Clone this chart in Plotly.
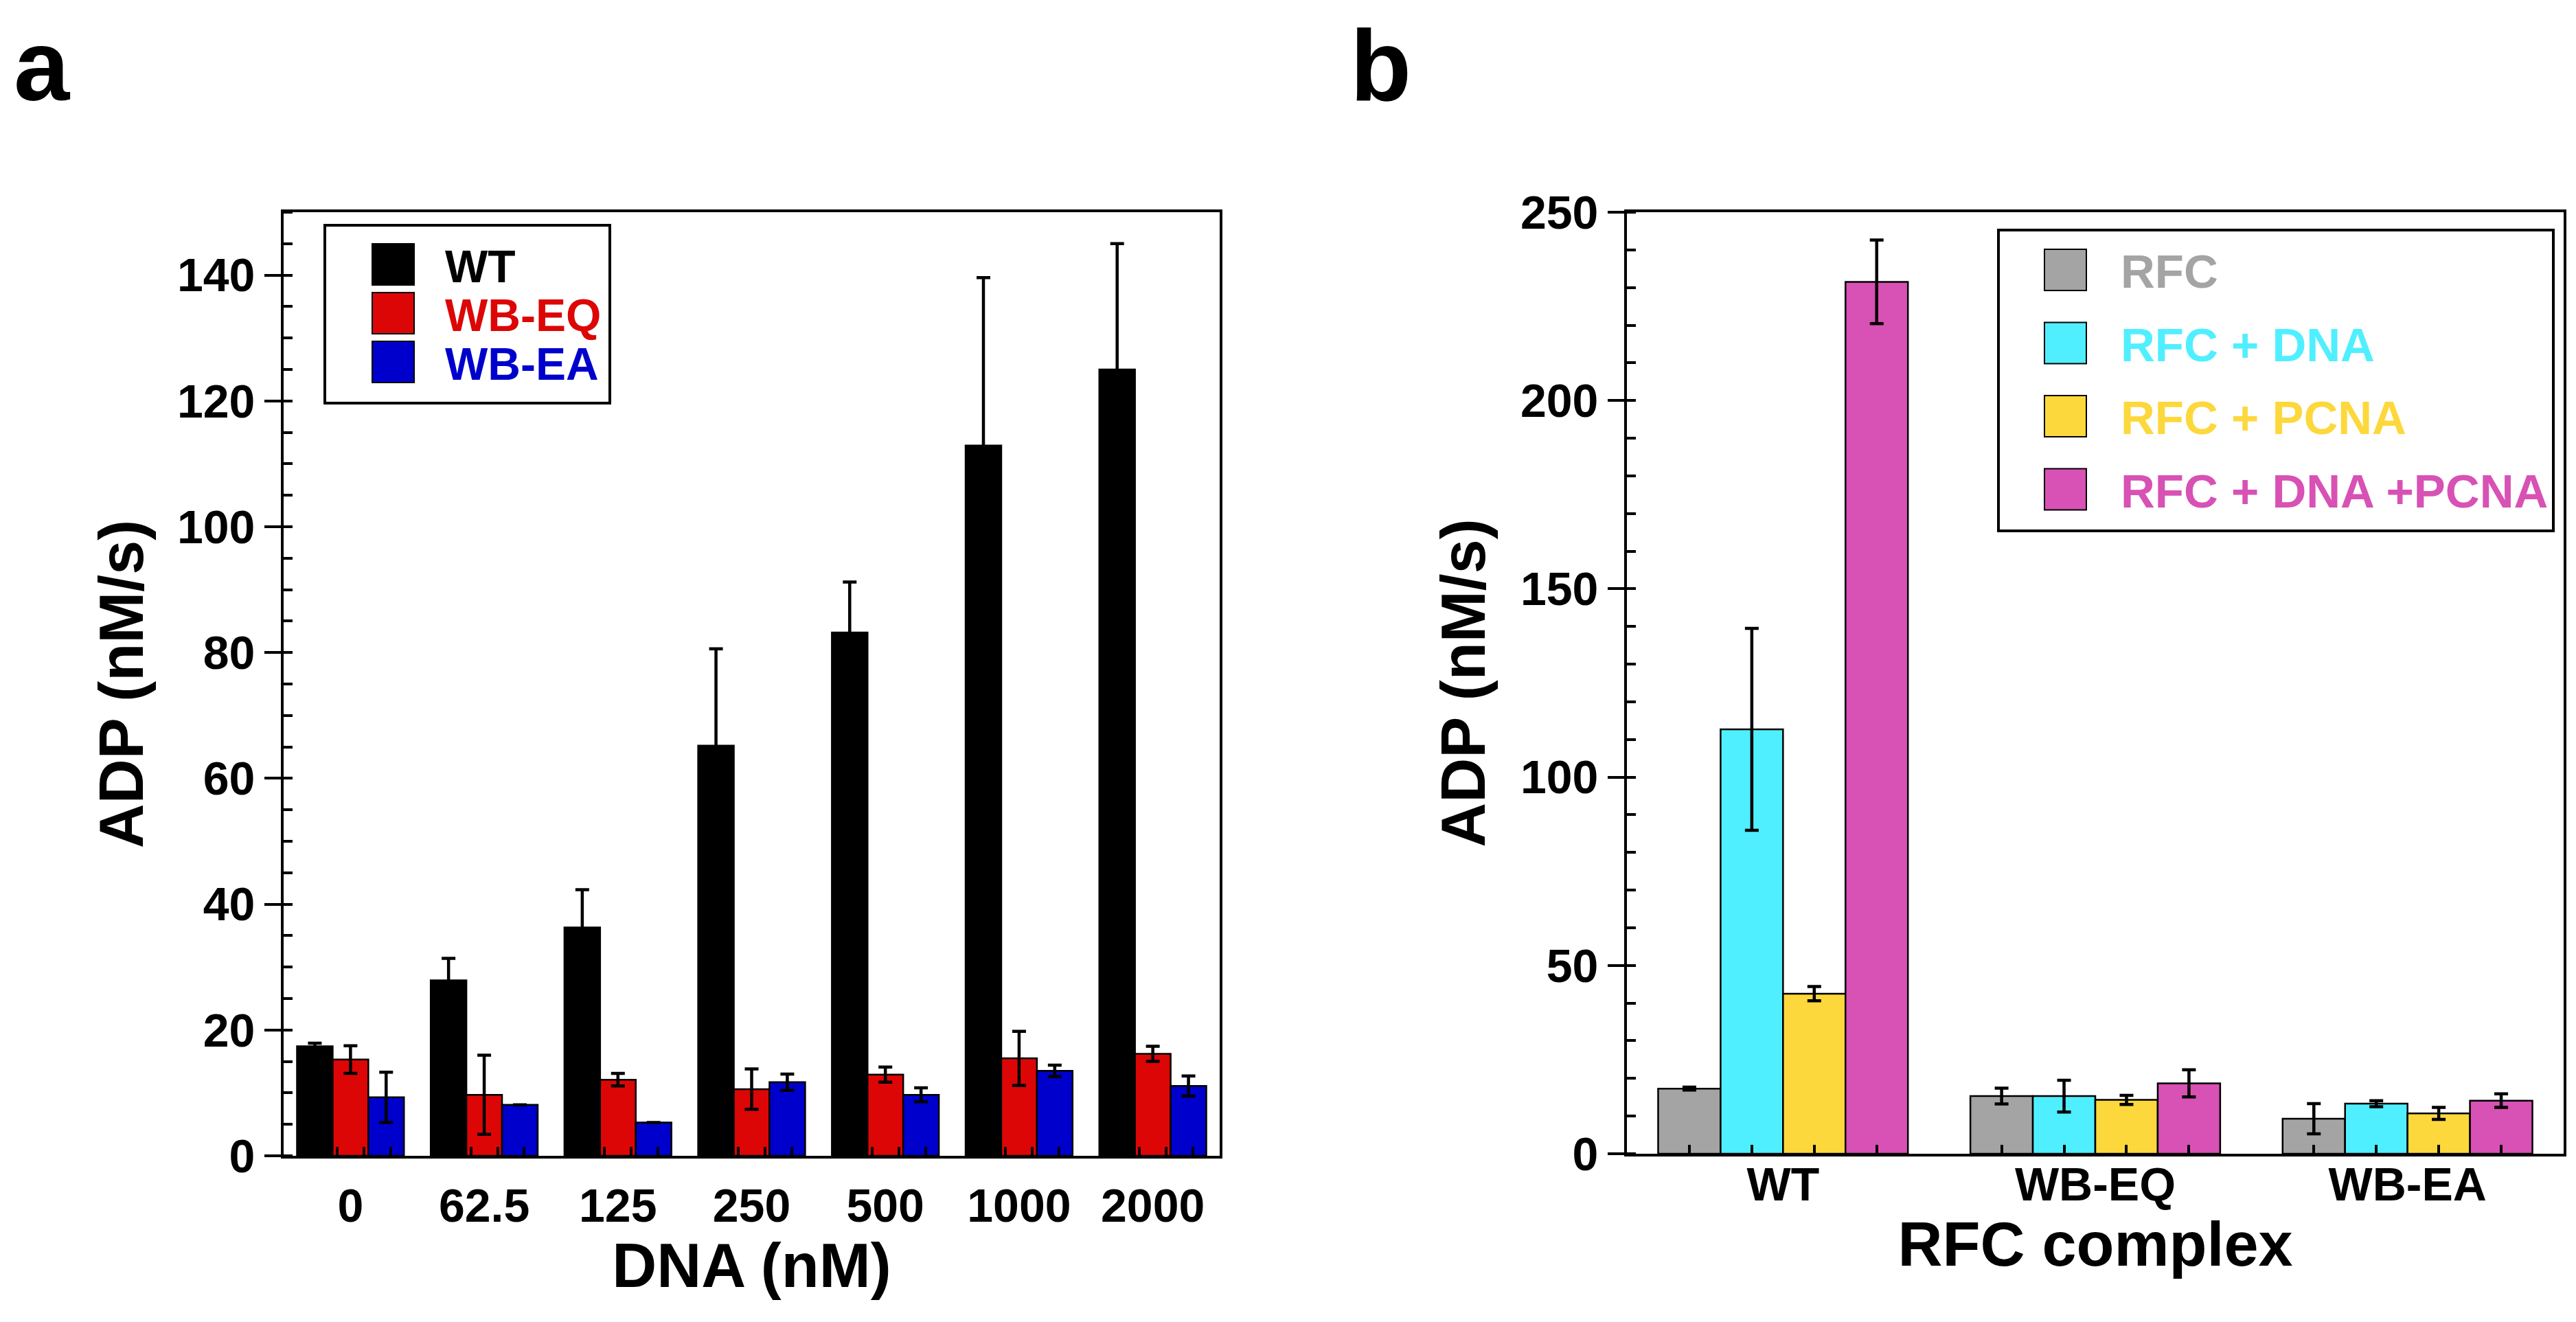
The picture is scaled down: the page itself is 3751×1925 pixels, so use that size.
import plotly.graph_objects as go

W, H = 3751, 1925
FONT = "Liberation Sans, Arial, Helvetica, sans-serif"

# ---- panel a : ATPase vs DNA concentration ----
dna_labels = ["0", "62.5", "125", "250", "500", "1000", "2000"]
wt = [17.4, 27.9, 36.3, 65.2, 83.2, 112.9, 125.0]
wt_err = [0.5, 3.5, 6.0, 15.4, 8.0, 26.7, 20.0]
wbeq = [15.3, 9.7, 12.1, 10.6, 12.9, 15.5, 16.2]
wbeq_err = [2.2, 6.3, 1.0, 3.2, 1.2, 4.3, 1.2]
wbea = [9.3, 8.1, 5.3, 11.7, 9.7, 13.5, 11.1]
wbea_err = [4.0, None, None, 1.3, 1.1, 0.9, 1.6]

names_a = ["WT", "WB-EQ", "WB-EA"]
colors_a = ["#000000", "#DD0606", "#0000CC"]

# ---- panel b : ATPase per RFC complex ----
complexes = ["WT", "WB-EQ", "WB-EA"]
rfc = [17.3, 15.3, 9.3]
rfc_err = [0.4, 2.1, 4.0]
rfc_dna = [112.7, 15.3, 13.3]
rfc_dna_err = [26.8, 4.2, 0.8]
rfc_pcna = [42.5, 14.3, 10.7]
rfc_pcna_err = [1.9, 1.2, 1.6]
rfc_dna_pcna = [231.5, 18.7, 14.1]
rfc_dna_pcna_err = [11.1, 3.6, 1.8]

names_b = ["RFC", "RFC + DNA", "RFC + PCNA", "RFC + DNA +PCNA"]
colors_b = ["#A4A4A4", "#50EFFF", "#FDD83C", "#D851B4"]


def px_x(p):
    return p / W


def px_y(p):
    return 1 - p / H


fig = go.Figure()

xa = list(range(len(dna_labels)))
for name, vals, errs, col in zip(names_a, [wt, wbeq, wbea],
                                 [wt_err, wbeq_err, wbea_err], colors_a):
    fig.add_trace(go.Bar(
        x=xa, y=vals, name=name, showlegend=False,
        marker=dict(color=col, line=dict(color="black", width=2.5)),
        error_y=dict(type="data", array=errs, color="black",
                     thickness=4.5, width=10),
        xaxis="x", yaxis="y"))

xb = list(range(len(complexes)))
for name, vals, errs, col in zip(names_b,
                                 [rfc, rfc_dna, rfc_pcna, rfc_dna_pcna],
                                 [rfc_err, rfc_dna_err, rfc_pcna_err, rfc_dna_pcna_err],
                                 colors_b):
    fig.add_trace(go.Bar(
        x=xb, y=vals, name=name, showlegend=False,
        marker=dict(color=col, line=dict(color="black", width=2.5)),
        error_y=dict(type="data", array=errs, color="black",
                     thickness=4.5, width=10),
        xaxis="x2", yaxis="y2"))

tickfont = dict(family=FONT, size=68, color="black", weight="bold")
titlefont = dict(family=FONT, size=90, color="black", weight="bold")
base = dict(showgrid=False, zeroline=False, automargin=False,
            linecolor="black", linewidth=4,
            tickcolor="black", tickwidth=4, tickfont=tickfont)


def cat_axes(n, dom, anchor, title, standoff, label_off):
    # labels sit at the group centres, big ticks at the group boundaries
    rng = [-0.5, n - 0.5]
    bounds = [i - 0.5 for i in range(n + 1)]
    minor = [b + 0.2 * k for b in bounds[:-1] for k in range(1, 5)]
    main = dict(base, domain=dom, range=rng, anchor=anchor,
                tickmode="array", tickvals=list(range(n)), ticks="",
                showline=True, mirror=True, ticklabelstandoff=label_off,
                minor=dict(tickmode="array", tickvals=minor, ticks="inside",
                           ticklen=13, tickwidth=3.5, tickcolor="black"),
                title=dict(text=title, font=titlefont, standoff=standoff))
    outer = dict(base, range=rng, anchor=anchor, tickmode="array",
                 tickvals=bounds, ticks="outside", ticklen=26,
                 showticklabels=False, showline=False)
    inner = dict(outer, ticks="inside")
    return main, outer, inner


def val_axes(dom, anchor, rng, step, minor_step, title, standoff):
    vals = list(range(0, rng[1] + 1, step))
    main = dict(base, domain=dom, range=rng, anchor=anchor,
                tickmode="array", tickvals=vals, ticks="outside", ticklen=24,
                showline=True, mirror=True,
                minor=dict(tick0=0, dtick=minor_step, ticks="inside",
                           ticklen=13, tickwidth=3.5, tickcolor="black"),
                title=dict(text=title, font=titlefont, standoff=standoff))
    inner = dict(base, range=rng, anchor=anchor, tickmode="array",
                 tickvals=vals, ticks="inside", ticklen=25,
                 showticklabels=False, showline=False, side="left")
    return main, inner


xa_main, xa_out, xa_in = cat_axes(len(dna_labels),
                                  [px_x(405), px_x(1768)], "y",
                                  "DNA (nM)", 19, 10)
xa_main["ticktext"] = dna_labels
xb_main, xb_out, xb_in = cat_axes(len(complexes),
                                  [px_x(2361), px_x(3725)], "y2",
                                  "RFC complex", 18, -18)
xb_main["ticktext"] = complexes

ya_main, ya_in = val_axes([px_y(1675), px_y(301)], "x", [0, 150], 20, 5,
                          "ADP (nM/s)", 20)
yb_main, yb_in = val_axes([px_y(1672), px_y(301)], "x2", [0, 250], 50, 10,
                          "ADP (nM/s)", 22)

fig.update_layout(
    template="none",
    width=W, height=H,
    margin=dict(l=0, r=0, t=0, b=0, autoexpand=False),
    paper_bgcolor="white", plot_bgcolor="white",
    font=dict(family=FONT, color="black", weight="bold"),
    barmode="group", bargap=0.2, bargroupgap=0,
    showlegend=False,
    xaxis=xa_main, yaxis=ya_main,
    xaxis2=xb_main, yaxis2=yb_main,
    xaxis3=dict(xa_out, overlaying="x"),
    xaxis4=dict(xa_in, overlaying="x"),
    yaxis3=dict(ya_in, overlaying="y"),
    xaxis5=dict(xb_out, overlaying="x2"),
    xaxis6=dict(xb_in, overlaying="x2"),
    yaxis4=dict(yb_in, overlaying="y2"),
)

# panel letters
for letter, xpx in [("a", 10), ("b", 1956)]:
    fig.add_annotation(text=letter, x=px_x(xpx), y=px_y(88),
                       xref="paper", yref="paper", xanchor="left",
                       yanchor="middle", showarrow=False,
                       font=dict(family=FONT, size=146, color="black",
                                 weight="bold"))


# legends drawn as boxes with swatches, since the reference uses large keys
def add_legend(box, sw_x, first_y, step, text_x, names, colors, size):
    x0, y0, x1, y1 = box
    fig.add_shape(type="rect", xref="paper", yref="paper",
                  x0=px_x(x0), x1=px_x(x1), y0=px_y(y0), y1=px_y(y1),
                  line=dict(color="black", width=4), fillcolor="white")
    for i, (nm, col) in enumerate(zip(names, colors)):
        cy = first_y + i * step
        fig.add_shape(type="rect", xref="paper", yref="paper",
                      x0=px_x(sw_x), x1=px_x(sw_x + 61),
                      y0=px_y(cy - 30), y1=px_y(cy + 30),
                      line=dict(color="black", width=2), fillcolor=col)
        fig.add_annotation(text=nm, x=px_x(text_x), y=px_y(cy + 3),
                           xref="paper", yref="paper", xanchor="left",
                           yanchor="middle", showarrow=False,
                           font=dict(family=FONT, size=size, color=col,
                                     weight="bold"))


add_legend((465, 320, 880, 579), 534, 377, 71, 638, names_a, colors_a, 66)
add_legend((2902, 327, 3710, 765), 2969, 385, 106.5, 3078, names_b, colors_b, 69)

fig.write_html("out.html")
